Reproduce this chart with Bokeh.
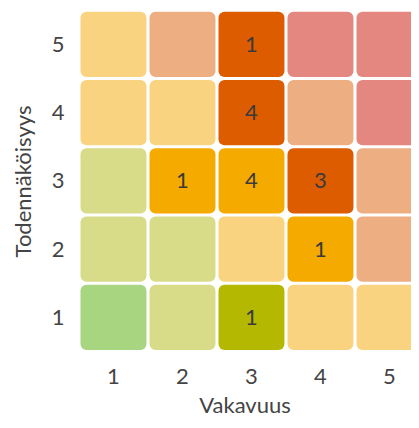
from bokeh.plotting import figure
from bokeh.models import ColumnDataSource, FixedTicker, Range1d
from bokeh.core.properties import value
from bokeh.embed import file_html
from bokeh.resources import INLINE

# Data
vakavuus = [1, 2, 3, 4, 5]            # x (severity)
todennakoisyys = [1, 2, 3, 4, 5]      # y (likelihood)
# risk level per cell, rows from y=1 (bottom) to y=5 (top), columns x=1..5
risk_level = [
    [1, 2, 2, 3, 3],
    [2, 2, 3, 3, 4],
    [2, 3, 3, 4, 4],
    [3, 3, 4, 4, 5],
    [3, 4, 4, 5, 5],
]
# counts of items in each cell
counts = [
    [0, 0, 1, 0, 0],
    [0, 0, 0, 1, 0],
    [0, 1, 4, 3, 0],
    [0, 0, 4, 0, 0],
    [0, 0, 1, 0, 0],
]
light_colors = ["#A8D580", "#D8DB87", "#F9D380", "#EDAE82", "#E38780"]
full_colors = ["#6DB33F", "#B5B800", "#F5AA00", "#DE5C00", "#D42E1E"]

xs, ys, cols, labels = [], [], [], []
for r, yv in enumerate(todennakoisyys):
    for c, xv in enumerate(vakavuus):
        lvl = risk_level[r][c]
        n = counts[r][c]
        xs.append(xv)
        ys.append(yv)
        cols.append(full_colors[lvl - 1] if n > 0 else light_colors[lvl - 1])
        labels.append(str(n) if n > 0 else "")

half = 0.478
src = ColumnDataSource(dict(
    x=xs, y=ys, color=cols, label=labels,
    left=[v - half for v in xs], right=[v + half for v in xs],
    bottom=[v - half for v in ys], top=[v + half for v in ys],
))

p = figure(width=411, height=420, output_backend="svg",
           toolbar_location=None,
           x_range=Range1d(0.493, 5.319), y_range=Range1d(0.484, 5.498),
           min_border_left=78, min_border_right=0, min_border_top=10,
           min_border_bottom=0)
p.quad(left="left", right="right", bottom="bottom", top="top", source=src,
       fill_color="color", line_color=None, border_radius=6)
p.text(x="x", y="y", text="label", source=src, text_align="center",
       text_baseline="middle", text_font=value("Lato"), text_font_size="22px",
       text_color="#3a3a3a")

for ax in (p.xaxis[0], p.yaxis[0]):
    ax.ticker = FixedTicker(ticks=[1, 2, 3, 4, 5])
    ax.axis_line_color = None
    ax.major_tick_line_color = None
    ax.minor_tick_line_color = None
    ax.major_label_text_font = "Lato"
    ax.major_label_text_font_size = "22px"
    ax.major_label_text_color = "#444444"
    ax.axis_label_text_font = "Lato"
    ax.axis_label_text_font_size = "22px"
    ax.axis_label_text_font_style = "normal"
    ax.axis_label_text_color = "#444444"

p.xaxis.major_label_standoff = 10
p.yaxis.major_label_standoff = 8
p.xaxis.axis_label = "Vakavuus"
p.yaxis.axis_label = "Todennäköisyys"
p.xaxis.axis_label_standoff = 4
p.yaxis.axis_label_standoff = 13
p.grid.visible = False
p.outline_line_color = None

open("out.html", "w").write(file_html(p, INLINE))
